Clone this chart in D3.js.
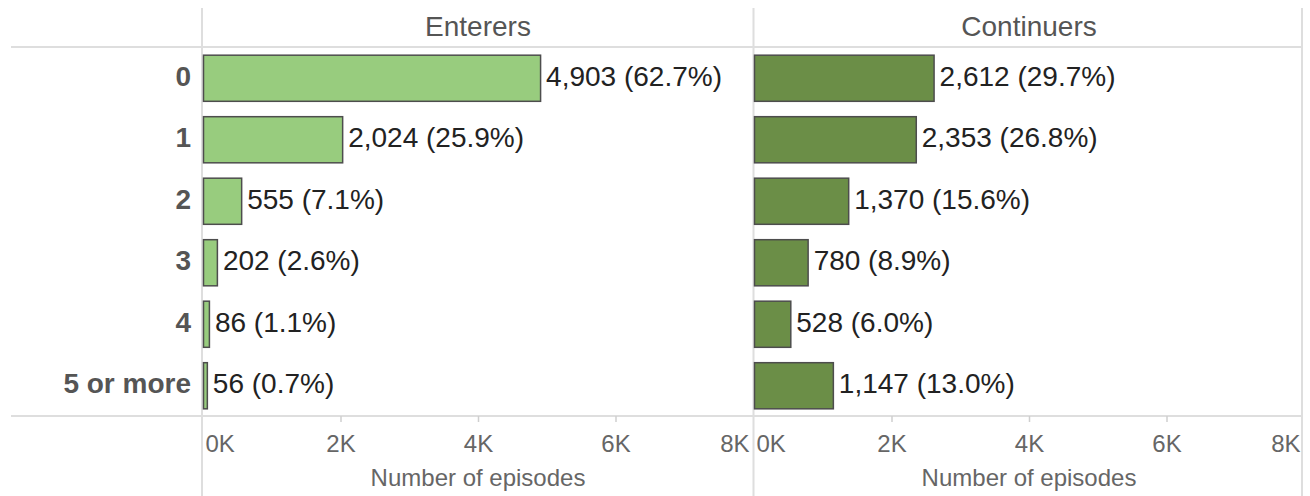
<!DOCTYPE html>
<html lang="en">
<head>
<meta charset="utf-8">
<title>Episodes</title>
<script src="https://cdn.jsdelivr.net/npm/d3@7"></script>
<style>
 body { margin: 0; background: #fff; }
 svg { font-family: "Liberation Sans", Arial, sans-serif; }
</style>
</head>
<body>
<div id="chart"></div>
<script>
// data
const categories = ["0", "1", "2", "3", "4", "5 or more"];
const panels = ["Enterers", "Continuers"];
const enterers = [4903, 2024, 555, 202, 86, 56];
const enterersPct = ["62.7%", "25.9%", "7.1%", "2.6%", "1.1%", "0.7%"];
const continuers = [2612, 2353, 1370, 780, 528, 1147];
const continuersPct = ["29.7%", "26.8%", "15.6%", "8.9%", "6.0%", "13.0%"];
const tickValues = [0, 2000, 4000, 6000, 8000];
const colors = ["#98cc7e", "#6b8e47"];

const W = 1310, H = 496;
const rowsTop = 47, rowsBottom = 416;
const panelX = [[203, 753], [754, 1304]];

const svg = d3.select("#chart").append("svg")
  .attr("width", W).attr("height", H);

const y = d3.scaleBand().domain(categories).range([rowsTop, rowsBottom]).paddingInner(0.25).paddingOuter(0.125);

const fmt = d3.format(",");
const series = [
  {vals: enterers, pct: enterersPct},
  {vals: continuers, pct: continuersPct}
];

// grid lines
const grid = svg.append("g").attr("stroke", "#dedede").attr("stroke-width", 2);
grid.append("line").attr("x1", 11).attr("x2", 1303).attr("y1", rowsTop).attr("y2", rowsTop);
grid.append("line").attr("x1", 11).attr("x2", 1303).attr("y1", rowsBottom).attr("y2", rowsBottom);
grid.append("line").attr("x1", 202).attr("x2", 202).attr("y1", 8).attr("y2", H);
grid.append("line").attr("x1", 753.5).attr("x2", 753.5).attr("y1", 8).attr("y2", H);
grid.append("line").attr("x1", 1302).attr("x2", 1302).attr("y1", 8).attr("y2", H);

// category labels
svg.append("g").selectAll("text").data(categories).join("text")
  .attr("x", 191)
  .attr("y", d => y(d) + y.bandwidth() / 2 + 8)
  .attr("text-anchor", "end")
  .attr("font-size", 28)
  .attr("font-weight", "bold")
  .attr("fill", "#555")
  .text(d => d);

panels.forEach((name, i) => {
  const x = d3.scaleLinear().domain([0, 8000]).range(panelX[i]);
  const g = svg.append("g");
  const s = series[i];

  // header
  g.append("text")
    .attr("x", (panelX[i][0] + panelX[i][1]) / 2)
    .attr("y", 36)
    .attr("text-anchor", "middle")
    .attr("font-size", 28)
    .attr("fill", "#555")
    .text(name);

  // bars
  g.selectAll("rect").data(categories).join("rect")
    .attr("x", x(0) + 0.5)
    .attr("y", d => y(d) + 0.5)
    .attr("width", (d, j) => Math.max(x(s.vals[j]) - x(0), 1))
    .attr("height", y.bandwidth())
    .attr("fill", colors[i])
    .attr("stroke", "#4d4d4d")
    .attr("stroke-width", 1.5);

  // value labels
  g.selectAll(".val").data(categories).join("text")
    .attr("class", "val")
    .attr("x", (d, j) => x(s.vals[j]) + 6)
    .attr("y", d => y(d) + y.bandwidth() / 2 + 8)
    .attr("font-size", 28)
    .attr("fill", "#222")
    .text((d, j) => fmt(s.vals[j]) + " (" + s.pct[j] + ")");

  // axis
  const axis = g.append("g").attr("transform", "translate(0," + rowsBottom + ")")
    .call(d3.axisBottom(x).tickValues(tickValues).tickSize(6).tickFormat(d => d / 1000 + "K"));
  axis.select(".domain").remove();
  axis.selectAll(".tick line").attr("stroke", "#cfcfcf").attr("stroke-width", 1.5)
    .attr("display", d => (d === 0 || d === 8000) ? "none" : null);
  axis.selectAll(".tick text")
    .attr("y", 36)
    .attr("dy", null)
    .attr("font-size", 24)
    .attr("font-family", "Liberation Sans, Arial, sans-serif")
    .attr("fill", "#666")
    .attr("text-anchor", d => d === 0 ? "start" : (d === 8000 ? "end" : "middle"))
    .attr("dx", d => d === 0 ? 2 : (d === 8000 ? -4 : 0));

  g.append("text")
    .attr("x", (panelX[i][0] + panelX[i][1]) / 2)
    .attr("y", 486)
    .attr("text-anchor", "middle")
    .attr("font-size", 24)
    .attr("fill", "#666")
    .text("Number of episodes");
});
</script>
</body>
</html>
